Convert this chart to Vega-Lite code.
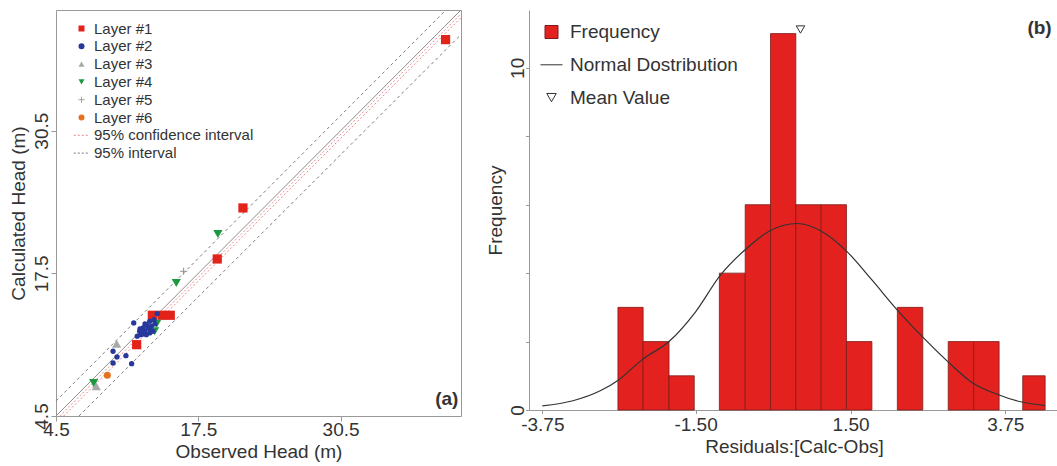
{
  "$schema": "https://vega.github.io/schema/vega-lite/v6.json",
  "padding": {"left": 8, "top": 7, "right": 0, "bottom": 0},
  "background": "white",
  "spacing": 22,
  "resolve": {
    "scale": {"fill": "independent", "stroke": "independent", "shape": "independent"},
    "legend": {"fill": "independent", "stroke": "independent", "shape": "independent"}
  },
  "datasets": {
    "heads": [
      {"series": "Layer #1", "obs": 40.09, "calc": 38.8},
      {"series": "Layer #1", "obs": 21.58, "calc": 23.46},
      {"series": "Layer #1", "obs": 19.23, "calc": 18.81},
      {"series": "Layer #1", "obs": 13.3, "calc": 13.68},
      {"series": "Layer #1", "obs": 14.18, "calc": 13.68},
      {"series": "Layer #1", "obs": 14.94, "calc": 13.68},
      {"series": "Layer #1", "obs": 11.87, "calc": 11.0},
      {"series": "Layer #2", "obs": 13.75, "calc": 13.83},
      {"series": "Layer #2", "obs": 11.6, "calc": 12.98},
      {"series": "Layer #2", "obs": 13.45, "calc": 13.28},
      {"series": "Layer #2", "obs": 13.06, "calc": 13.13},
      {"series": "Layer #2", "obs": 12.75, "calc": 12.82},
      {"series": "Layer #2", "obs": 12.45, "calc": 12.52},
      {"series": "Layer #2", "obs": 12.14, "calc": 12.22},
      {"series": "Layer #2", "obs": 12.6, "calc": 12.22},
      {"series": "Layer #2", "obs": 12.9, "calc": 12.52},
      {"series": "Layer #2", "obs": 13.2, "calc": 12.68},
      {"series": "Layer #2", "obs": 11.92, "calc": 11.77},
      {"series": "Layer #2", "obs": 12.29, "calc": 11.91},
      {"series": "Layer #2", "obs": 12.75, "calc": 11.91},
      {"series": "Layer #2", "obs": 13.06, "calc": 12.07},
      {"series": "Layer #2", "obs": 13.36, "calc": 12.22},
      {"series": "Layer #2", "obs": 12.17, "calc": 12.43},
      {"series": "Layer #2", "obs": 12.63, "calc": 12.89},
      {"series": "Layer #2", "obs": 13.08, "calc": 12.43},
      {"series": "Layer #2", "obs": 13.54, "calc": 12.89},
      {"series": "Layer #2", "obs": 12.35, "calc": 11.97},
      {"series": "Layer #2", "obs": 9.71, "calc": 10.4},
      {"series": "Layer #2", "obs": 10.07, "calc": 9.88},
      {"series": "Layer #2", "obs": 10.89, "calc": 10.0},
      {"series": "Layer #2", "obs": 9.71, "calc": 9.33},
      {"series": "Layer #2", "obs": 11.41, "calc": 9.27},
      {"series": "Layer #3", "obs": 10.04, "calc": 11.09},
      {"series": "Layer #3", "obs": 8.18, "calc": 7.21},
      {"series": "Layer #4", "obs": 19.29, "calc": 21.09},
      {"series": "Layer #4", "obs": 15.49, "calc": 16.62},
      {"series": "Layer #4", "obs": 13.7, "calc": 12.91},
      {"series": "Layer #4", "obs": 13.51, "calc": 12.22},
      {"series": "Layer #4", "obs": 7.94, "calc": 7.51},
      {"series": "Layer #5", "obs": 16.16, "calc": 17.69},
      {"series": "Layer #6", "obs": 9.19, "calc": 8.21}
    ]
  },
  "config": {
    "font": "Liberation Sans",
    "view": {"stroke": null},
    "axis": {
      "labelFont": "Liberation Sans", "titleFont": "Liberation Sans",
      "labelColor": "#333333", "titleColor": "#333333",
      "labelFontSize": 19, "titleFontSize": 19, "titleFontWeight": "normal",
      "domainColor": "#999999", "tickColor": "#999999", "grid": false,
      "labelFlush": false, "labelOverlap": false
    },
    "legend": {
      "labelFont": "Liberation Sans", "labelColor": "#333333", "labelLimit": 0,
      "symbolOpacity": 1, "symbolStrokeWidth": 1, "padding": 0
    }
  },
  "hconcat": [
    {
      "width": 405,
      "height": 406,
      "view": {"stroke": "#999999", "strokeWidth": 1},
      "layer": [
        {
          "data": {"values": [{"obs": 4.5, "calc": 4.5}, {"obs": 41.5, "calc": 41.5}]},
          "mark": {"type": "line", "color": "#8c8c8c", "strokeWidth": 1},
          "encoding": {
            "x": {"field": "obs", "type": "quantitative", "title": "Observed Head (m)",
              "scale": {"domain": [4.5, 41.5], "nice": false, "zero": false},
              "axis": {"values": [4.5, 17.5, 30.5], "format": ".1f", "domain": false, "tickSize": 5, "labelPadding": -1, "titlePadding": 3}},
            "y": {"field": "calc", "type": "quantitative", "title": "Calculated Head (m)",
              "scale": {"domain": [4.5, 41.5], "nice": false, "zero": false},
              "axis": {"values": [4.5, 17.5, 30.5], "format": ".1f", "domain": false, "tickSize": 5, "labelAngle": -90, "labelAlign": "center", "labelBaseline": "bottom", "labelPadding": 0, "titlePadding": 4}}
          }
        },
        {
          "data": {"values": [
            {"series": "95% confidence interval", "line": "ci1", "obs": 4.85, "calc": 4.5},
            {"series": "95% confidence interval", "line": "ci1", "obs": 41.5, "calc": 41.15},
            {"series": "95% confidence interval", "line": "ci2", "obs": 5.2, "calc": 4.5},
            {"series": "95% confidence interval", "line": "ci2", "obs": 41.5, "calc": 40.8}
          ]},
          "mark": {"type": "line", "strokeWidth": 1, "strokeDash": [2, 2], "opacity": 1},
          "encoding": {
            "x": {"field": "obs", "type": "quantitative"},
            "y": {"field": "calc", "type": "quantitative"},
            "detail": {"field": "line", "type": "nominal"},
            "stroke": {"field": "series", "type": "nominal",
              "scale": {"domain": ["Layer #1", "Layer #2", "Layer #3", "Layer #4", "Layer #5", "Layer #6", "95% confidence interval", "95% interval"],
                "range": ["transparent", "transparent", "transparent", "transparent", "#8f8f8f", "transparent", "#e8868c", "#7d7d7d"]},
              "legend": {"title": null, "orient": "none", "legendX": 18, "legendY": 11, "labelFontSize": 15, "symbolSize": 240, "rowPadding": 1.8, "labelOffset": 5,
                "encode": {"symbols": {"update": {
                  "size": {"signal": "(datum.value === '95% confidence interval' || datum.value === '95% interval') ? 240 : 36"},
                  "strokeDash": {"signal": "(datum.value === '95% confidence interval' || datum.value === '95% interval') ? [2, 2] : [1, 0]"}
                }}}}
            }
          }
        },
        {
          "data": {"values": [
            {"series": "95% interval", "line": "up", "obs": 4.5, "calc": 5.87},
            {"series": "95% interval", "line": "up", "obs": 40.12, "calc": 41.5},
            {"series": "95% interval", "line": "low", "obs": 6.6, "calc": 4.5},
            {"series": "95% interval", "line": "low", "obs": 41.5, "calc": 39.26}
          ]},
          "mark": {"type": "line", "strokeWidth": 1, "strokeDash": [3, 3], "opacity": 1},
          "encoding": {
            "x": {"field": "obs", "type": "quantitative"},
            "y": {"field": "calc", "type": "quantitative"},
            "detail": {"field": "line", "type": "nominal"},
            "stroke": {"field": "series", "type": "nominal"}
          }
        },
        {
          "data": {"name": "heads"},
          "transform": [{"filter": "datum.series === 'Layer #1' || datum.series === 'Layer #3' || datum.series === 'Layer #4'"}],
          "mark": {"type": "point", "filled": true, "opacity": 1, "strokeWidth": 1, "size": 85},
          "encoding": {
            "x": {"field": "obs", "type": "quantitative"},
            "y": {"field": "calc", "type": "quantitative"},
            "fill": {"field": "series", "type": "nominal",
              "scale": {"domain": ["Layer #1", "Layer #2", "Layer #3", "Layer #4", "Layer #5", "Layer #6", "95% confidence interval", "95% interval"],
                "range": ["#e2231a", "#26389c", "#a8a8a8", "#1d9a41", "transparent", "#e5731e", "transparent", "transparent"]},
              "legend": {"title": null, "orient": "none", "legendX": 18, "legendY": 11, "labelFontSize": 15, "symbolSize": 240, "rowPadding": 1.8, "labelOffset": 5,
                "encode": {"symbols": {"update": {
                  "size": {"signal": "(datum.value === '95% confidence interval' || datum.value === '95% interval') ? 240 : 36"},
                  "strokeDash": {"signal": "(datum.value === '95% confidence interval' || datum.value === '95% interval') ? [2, 2] : [1, 0]"}
                }}}}},
            "stroke": {"field": "series", "type": "nominal"},
            "shape": {"field": "series", "type": "nominal",
              "scale": {"domain": ["Layer #1", "Layer #2", "Layer #3", "Layer #4", "Layer #5", "Layer #6", "95% confidence interval", "95% interval"],
                "range": ["square", "circle", "triangle-up", "triangle-down", "M-1,0H1M0,-1V1", "circle", "stroke", "stroke"]},
              "legend": {"title": null, "orient": "none", "legendX": 18, "legendY": 11, "labelFontSize": 15, "symbolSize": 240, "rowPadding": 1.8, "labelOffset": 5,
                "encode": {"symbols": {"update": {
                  "size": {"signal": "(datum.value === '95% confidence interval' || datum.value === '95% interval') ? 240 : 36"},
                  "strokeDash": {"signal": "(datum.value === '95% confidence interval' || datum.value === '95% interval') ? [2, 2] : [1, 0]"}
                }}}}}
          }
        },
        {
          "data": {"name": "heads"},
          "transform": [{"filter": "datum.series === 'Layer #5' || datum.series === 'Layer #6'"}],
          "mark": {"type": "point", "filled": true, "opacity": 1, "strokeWidth": 1, "size": 50},
          "encoding": {
            "x": {"field": "obs", "type": "quantitative"},
            "y": {"field": "calc", "type": "quantitative"},
            "fill": {"field": "series", "type": "nominal"},
            "stroke": {"field": "series", "type": "nominal"},
            "shape": {"field": "series", "type": "nominal"}
          }
        },
        {
          "data": {"name": "heads"},
          "transform": [{"filter": "datum.series === 'Layer #2'"}],
          "mark": {"type": "point", "filled": true, "opacity": 1, "strokeWidth": 1, "size": 28},
          "encoding": {
            "x": {"field": "obs", "type": "quantitative"},
            "y": {"field": "calc", "type": "quantitative"},
            "fill": {"field": "series", "type": "nominal"},
            "stroke": {"field": "series", "type": "nominal"},
            "shape": {"field": "series", "type": "nominal"}
          }
        },
        {
          "data": {"values": [{"label": "(a)"}]},
          "mark": {"type": "text", "fontWeight": "bold", "fontSize": 19, "color": "#333333", "align": "center", "baseline": "middle"},
          "encoding": {"x": {"datum": 40.2}, "y": {"datum": 6.05}, "text": {"field": "label", "type": "nominal"}}
        }
      ]
    },
    {
      "width": 530,
      "height": 400,
      "layer": [
        {
          "data": {"values": [
            {"series": "Frequency", "bin_start": -2.64, "bin_end": -2.27, "count": 3},
            {"series": "Frequency", "bin_start": -2.27, "bin_end": -1.89, "count": 2},
            {"series": "Frequency", "bin_start": -1.89, "bin_end": -1.52, "count": 1},
            {"series": "Frequency", "bin_start": -1.04, "bin_end": -0.54, "count": 4},
            {"series": "Frequency", "bin_start": -0.54, "bin_end": -0.05, "count": 6},
            {"series": "Frequency", "bin_start": -0.05, "bin_end": 0.44, "count": 11},
            {"series": "Frequency", "bin_start": 0.44, "bin_end": 0.93, "count": 6},
            {"series": "Frequency", "bin_start": 0.93, "bin_end": 1.42, "count": 6},
            {"series": "Frequency", "bin_start": 1.42, "bin_end": 1.81, "count": 2},
            {"series": "Frequency", "bin_start": 2.18, "bin_end": 2.55, "count": 3},
            {"series": "Frequency", "bin_start": 2.92, "bin_end": 3.29, "count": 2},
            {"series": "Frequency", "bin_start": 3.29, "bin_end": 3.66, "count": 2},
            {"series": "Frequency", "bin_start": 4.03, "bin_end": 4.39, "count": 1}
          ]},
          "mark": {"type": "bar", "opacity": 1, "strokeWidth": 0.8, "orient": "vertical"},
          "encoding": {
            "x": {"field": "bin_start", "type": "quantitative", "title": "Residuals:[Calc-Obs]",
              "scale": {"domain": [-3.945, -3.75, -1.5, 1.5, 3.75, 4.531], "range": [0, 13.3, 166.6, 321.6, 476.3, 530], "nice": false, "zero": false},
              "axis": {"values": [-3.75, -1.5, 1.5, 3.75], "format": ".2f", "labelExpr": "replace(datum.label, '\u2212', '-')", "tickSize": 3.5, "labelPadding": 2, "titlePadding": 3}},
            "x2": {"field": "bin_end"},
            "y": {"field": "count", "type": "quantitative", "title": "Frequency",
              "scale": {"domain": [0, 11.69], "nice": false, "zero": true},
              "axis": {"values": [0, 1, 2, 3, 4, 5, 6, 7, 8, 9, 10, 11], "labelExpr": "datum.value % 5 === 0 ? datum.label : ''", "tickSize": 3.5, "labelAngle": -90, "labelAlign": "center", "labelBaseline": "middle", "labelPadding": 8.5, "titlePadding": 3}},
            "y2": {"datum": 0},
            "fill": {"field": "series", "type": "nominal",
              "scale": {"domain": ["Frequency", "Normal Dostribution", "Mean Value"], "range": ["#e3221f", "transparent", "transparent"]},
              "legend": {"title": null, "orient": "none", "legendX": 13, "legendY": 12.5, "labelFontSize": 19, "symbolSize": 484, "rowPadding": 12.8, "labelOffset": 9,
                "encode": {"symbols": {"update": {
                  "size": {"signal": "datum.value === 'Normal Dostribution' ? 484 : (datum.value === 'Frequency' ? 169 : 90)"}
                }}}}},
            "stroke": {"field": "series", "type": "nominal",
              "scale": {"domain": ["Frequency", "Normal Dostribution", "Mean Value"], "range": ["#7b1d1b", "#333333", "#333333"]},
              "legend": {"title": null, "orient": "none", "legendX": 13, "legendY": 12.5, "labelFontSize": 19, "symbolSize": 484, "rowPadding": 12.8, "labelOffset": 9,
                "encode": {"symbols": {"update": {
                  "size": {"signal": "datum.value === 'Normal Dostribution' ? 484 : (datum.value === 'Frequency' ? 169 : 90)"}
                }}}}}
          }
        },
        {
          "data": {"values": [
            {"series": "Normal Dostribution", "residual": -3.75, "freq": 0.12},
            {"series": "Normal Dostribution", "residual": -3.3, "freq": 0.27},
            {"series": "Normal Dostribution", "residual": -2.9, "freq": 0.56},
            {"series": "Normal Dostribution", "residual": -2.63, "freq": 0.88},
            {"series": "Normal Dostribution", "residual": -2.28, "freq": 1.48},
            {"series": "Normal Dostribution", "residual": -1.89, "freq": 2.0},
            {"series": "Normal Dostribution", "residual": -1.5, "freq": 2.87},
            {"series": "Normal Dostribution", "residual": -1.02, "freq": 3.94},
            {"series": "Normal Dostribution", "residual": -0.53, "freq": 4.7},
            {"series": "Normal Dostribution", "residual": -0.06, "freq": 5.24},
            {"series": "Normal Dostribution", "residual": 0.47, "freq": 5.45},
            {"series": "Normal Dostribution", "residual": 0.95, "freq": 5.21},
            {"series": "Normal Dostribution", "residual": 1.43, "freq": 4.63},
            {"series": "Normal Dostribution", "residual": 1.81, "freq": 3.8},
            {"series": "Normal Dostribution", "residual": 2.18, "freq": 2.92},
            {"series": "Normal Dostribution", "residual": 2.54, "freq": 2.15},
            {"series": "Normal Dostribution", "residual": 2.91, "freq": 1.42},
            {"series": "Normal Dostribution", "residual": 3.27, "freq": 0.8},
            {"series": "Normal Dostribution", "residual": 3.63, "freq": 0.46},
            {"series": "Normal Dostribution", "residual": 4.0, "freq": 0.24},
            {"series": "Normal Dostribution", "residual": 4.39, "freq": 0.13}
          ]},
          "mark": {"type": "line", "strokeWidth": 1.2, "interpolate": "monotone", "opacity": 1},
          "encoding": {
            "x": {"field": "residual", "type": "quantitative"},
            "y": {"field": "freq", "type": "quantitative"},
            "stroke": {"field": "series", "type": "nominal"}
          }
        },
        {
          "data": {"values": [{"series": "Mean Value", "residual": 0.53, "freq": 11.12}]},
          "mark": {"type": "point", "filled": false, "opacity": 1, "size": 72, "strokeWidth": 1},
          "encoding": {
            "x": {"field": "residual", "type": "quantitative"},
            "y": {"field": "freq", "type": "quantitative"},
            "stroke": {"field": "series", "type": "nominal"},
            "shape": {"field": "series", "type": "nominal",
              "scale": {"domain": ["Frequency", "Normal Dostribution", "Mean Value"], "range": ["square", "stroke", "triangle-down"]},
              "legend": {"title": null, "orient": "none", "legendX": 13, "legendY": 12.5, "labelFontSize": 19, "symbolSize": 484, "rowPadding": 12.8, "labelOffset": 9,
                "encode": {"symbols": {"update": {
                  "size": {"signal": "datum.value === 'Normal Dostribution' ? 484 : (datum.value === 'Frequency' ? 169 : 90)"}
                }}}}}
          }
        },
        {
          "mark": {"type": "rule", "color": "#999999", "strokeWidth": 1},
          "encoding": {"y": {"datum": 11.63}}
        },
        {
          "data": {"values": [{"label": "(b)"}]},
          "mark": {"type": "text", "fontWeight": "bold", "fontSize": 19, "color": "#333333", "align": "center", "baseline": "middle"},
          "encoding": {"x": {"datum": 4.3}, "y": {"datum": 11.15}, "text": {"field": "label", "type": "nominal"}}
        }
      ]
    }
  ]
}
